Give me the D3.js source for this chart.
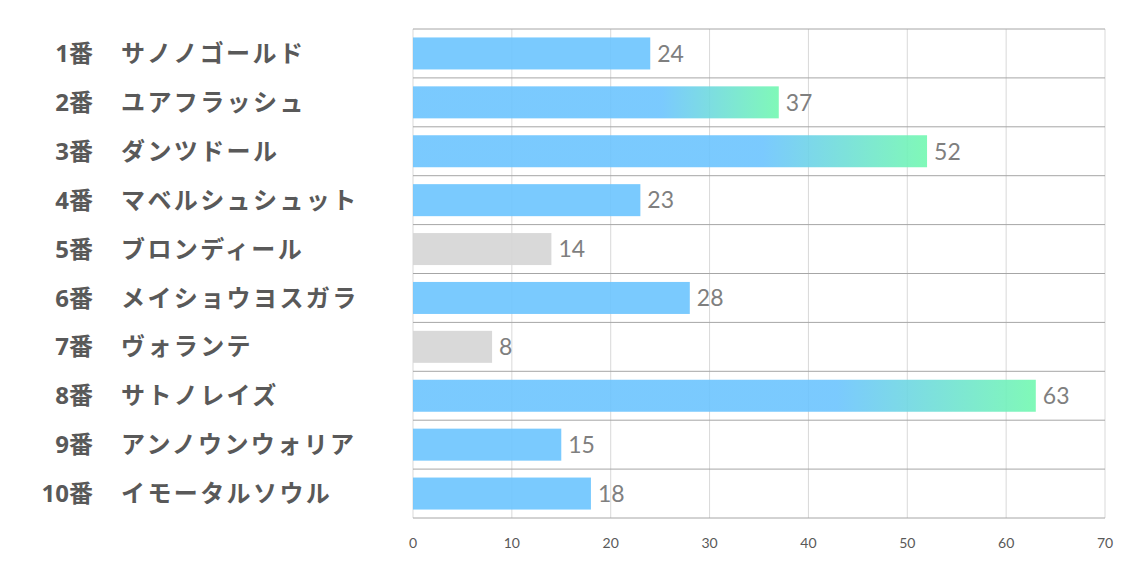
<!DOCTYPE html>
<html lang="ja">
<head>
    <meta charset="UTF-8">
    <title>出走馬</title>
    <script src="https://d3js.org/d3.v7.min.js"></script>
    <style>
        body { margin: 0; background: #fff; }
        .num-label, .name-label {
            font-family: "Open Sans", "Noto Sans CJK JP", sans-serif;
            font-weight: bold;
            font-size: 24px;
            fill: #595959;
        }
        .name-label {
            font-family: "Noto Sans CJK JP", sans-serif;
            letter-spacing: 2.4px;
        }
        .value-label {
            font-family: Lato, "Open Sans", sans-serif;
            font-size: 23px;
            fill: #7f7f7f;
        }
        .tick-label {
            font-family: Lato, "Open Sans", sans-serif;
            font-size: 14px;
            fill: #595959;
        }
    </style>
</head>
<body>
    <svg width="1134" height="567"></svg>
    <script>
        // data
        const numbers = ["1番", "2番", "3番", "4番", "5番", "6番", "7番", "8番", "9番", "10番"];
        const names = ["サノノゴールド", "ユアフラッシュ", "ダンツドール", "マベルシュシュット", "ブロンディール",
            "メイショウヨスガラ", "ヴォランテ", "サトノレイズ", "アンノウンウォリア", "イモータルソウル"];
        const values = [24, 37, 52, 23, 14, 28, 8, 63, 15, 18];
        // bar style per horse: "blue", "grad" (blue -> green), "grey"
        const barKinds = ["blue", "grad", "grad", "blue", "grey", "blue", "grey", "grad", "blue", "blue"];
        const xTicks = [0, 10, 20, 30, 40, 50, 60, 70];

        const svg = d3.select("svg");
        const plotLeft = 413, plotRight = 1105, plotTop = 29, plotBottom = 518;

        const x = d3.scaleLinear().domain([0, 70]).range([plotLeft, plotRight]);
        const y = d3.scaleBand().domain(d3.range(numbers.length)).range([plotTop, plotBottom]).padding(0);
        const barH = 32;

        const defs = svg.append("defs");
        const grad = defs.append("linearGradient")
            .attr("id", "barGrad")
            .attr("x1", "0").attr("x2", "1").attr("y1", "0").attr("y2", "0");
        grad.append("stop").attr("offset", "0.68").attr("stop-color", "#6cc4fe");
        grad.append("stop").attr("offset", "1").attr("stop-color", "#72f8b0");

        // vertical gridlines
        svg.selectAll(".vgrid")
            .data(xTicks)
            .enter().append("line")
            .attr("x1", d => x(d)).attr("x2", d => x(d))
            .attr("y1", plotTop).attr("y2", plotBottom)
            .attr("stroke", "#d9d9d9").attr("stroke-width", 1);

        // horizontal row separators
        svg.selectAll(".hgrid")
            .data(d3.range(numbers.length + 1))
            .enter().append("line")
            .attr("x1", plotLeft).attr("x2", plotRight)
            .attr("y1", d => plotTop + d * y.step()).attr("y2", d => plotTop + d * y.step())
            .attr("stroke", "#a6a6a6").attr("stroke-width", 1);

        // bars
        svg.selectAll(".bar")
            .data(values)
            .enter().append("rect")
            .attr("x", x(0))
            .attr("y", (d, i) => y(i) + (y.bandwidth() - barH) / 2)
            .attr("width", d => x(d) - x(0))
            .attr("height", barH)
            .attr("fill", (d, i) => barKinds[i] === "grad" ? "url(#barGrad)" : barKinds[i] === "grey" ? "#d5d5d5" : "#6cc4fe")
            .attr("fill-opacity", 0.9);

        // value labels
        svg.selectAll(".value-label")
            .data(values)
            .enter().append("text")
            .attr("class", "value-label")
            .attr("x", d => x(d) + 7)
            .attr("y", (d, i) => y(i) + y.bandwidth() / 2)
            .attr("dy", "0.36em")
            .text(d => d);

        // category labels
        svg.selectAll(".num-label")
            .data(numbers)
            .enter().append("text")
            .attr("class", "num-label")
            .attr("text-anchor", "end")
            .attr("x", 93)
            .attr("y", (d, i) => y(i) + y.bandwidth() / 2)
            .attr("dy", "0.36em")
            .text(d => d);

        svg.selectAll(".name-label")
            .data(names)
            .enter().append("text")
            .attr("class", "name-label")
            .attr("x", 121)
            .attr("y", (d, i) => y(i) + y.bandwidth() / 2)
            .attr("dy", "0.36em")
            .text(d => d);

        // x tick labels
        svg.selectAll(".tick-label")
            .data(xTicks)
            .enter().append("text")
            .attr("class", "tick-label")
            .attr("text-anchor", "middle")
            .attr("x", d => x(d))
            .attr("y", 548)
            .text(d => d);
    </script>
</body>
</html>
